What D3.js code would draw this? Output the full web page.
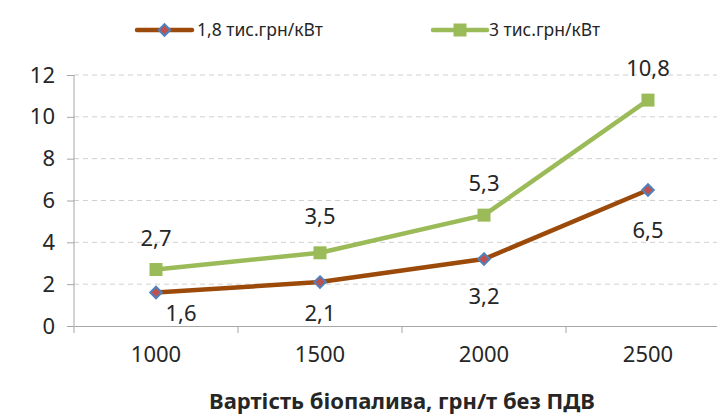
<!DOCTYPE html>
<html>
<head>
<meta charset="utf-8">
<script src="https://d3js.org/d3.v7.min.js"></script>
<style>
body { margin: 0; background: white; }
text { font-family: "Noto Sans", sans-serif; fill: #262626; }
.grid line { stroke: #d0d0d0; stroke-dasharray: 5,4; }
</style>
</head>
<body>
<svg id="chart" width="717" height="415"></svg>
<script>
// data
var categories = ["1000", "1500", "2000", "2500"];
var seriesNames = ["1,8 тис.грн/кВт", "3 тис.грн/кВт"];
var low = [1.6, 2.1, 3.2, 6.5];
var high = [2.7, 3.5, 5.3, 10.8];
var yTicks = [0, 2, 4, 6, 8, 10, 12];
var xTitle = "Вартість біопалива, грн/т без ПДВ";

// label placement (dx, dy from point) - Excel put them around the marker
var lowLabelOff = [[25, 21], [0, 31], [0, 37], [0, 40]];
var highLabelOff = [[0, -31], [0, -36], [0, -32], [0, -32]];

var svg = d3.select("#chart");
var mLeft = 74, mTop = 75, mBottom = 326;

var x = d3.scaleBand().domain(categories).range([mLeft, mLeft + 656]);
var y = d3.scaleLinear().domain([0, 12]).range([mBottom, mTop]);

// grid
svg.append("g").attr("class", "grid")
  .selectAll("line").data(yTicks.filter(function(d) { return d > 0; }))
  .enter().append("line")
  .attr("x1", mLeft).attr("x2", 717)
  .attr("y1", function(d) { return y(d); })
  .attr("y2", function(d) { return y(d); });

// y axis
var ya = svg.append("g").attr("transform", "translate(" + mLeft + ",0)")
  .call(d3.axisLeft(y).tickValues(yTicks).tickSize(7).tickPadding(12).tickFormat(d3.format("d")));
ya.select(".domain").attr("stroke", "#a6a6a6").attr("d", "M0," + y(12) + "V" + (mBottom + 7));
ya.selectAll(".tick line").attr("stroke", "#a6a6a6");
ya.selectAll("text").style("font-size", "22px").attr("fill", "#262626");

// x axis
var xa = svg.append("g").attr("transform", "translate(0," + mBottom + ")")
  .call(d3.axisBottom(x).tickSize(0).tickPadding(20));
xa.select(".domain").attr("stroke", "#a6a6a6");
xa.selectAll("text").style("font-size", "22px").attr("fill", "#262626");
xa.selectAll(".sep").data(categories.slice(1)).enter().append("line")
  .attr("class", "sep")
  .attr("x1", function(d) { return x(d); }).attr("x2", function(d) { return x(d); })
  .attr("y1", 0).attr("y2", 7).attr("stroke", "#a6a6a6");

svg.append("text")
  .attr("x", 402).attr("y", 409)
  .attr("text-anchor", "middle")
  .style("font-size", "22px").style("font-weight", "bold")
  .text(xTitle);

var cx = function(d, i) { return x(categories[i]) + x.bandwidth() / 2; };
var line = d3.line()
  .x(function(d, i) { return x(categories[i]) + x.bandwidth() / 2; })
  .y(function(d) { return y(d); });

var brown = "#9c4a09", green = "#9bbb59";

svg.append("path").datum(high)
  .attr("fill", "none").attr("stroke", green).attr("stroke-width", 4.5)
  .attr("stroke-linejoin", "round").attr("d", line);
svg.append("path").datum(low)
  .attr("fill", "none").attr("stroke", brown).attr("stroke-width", 4.5)
  .attr("stroke-linejoin", "round").attr("d", line);

svg.selectAll(".sq").data(high).enter().append("rect")
  .attr("x", function(d, i) { return cx(d, i) - 6.5; })
  .attr("y", function(d) { return y(d) - 6.5; })
  .attr("width", 13).attr("height", 13)
  .attr("fill", green);

var diamond = d3.symbol().type(d3.symbolDiamond2).size(85);
svg.selectAll(".dm").data(low).enter().append("path")
  .attr("transform", function(d, i) { return "translate(" + cx(d, i) + "," + y(d) + ")"; })
  .attr("d", diamond)
  .attr("fill", "#c0504d").attr("stroke", "#4f81bd").attr("stroke-width", 2);

var fmt = function(v) { return String(v).replace(".", ","); };

svg.selectAll(".lbl-l").data(low).enter().append("text")
  .attr("x", function(d, i) { return cx(d, i) + lowLabelOff[i][0]; })
  .attr("y", function(d, i) { return y(d) + lowLabelOff[i][1]; })
  .attr("text-anchor", "middle").attr("dy", "0.35em")
  .style("font-size", "22px")
  .text(fmt);
svg.selectAll(".lbl-h").data(high).enter().append("text")
  .attr("x", function(d, i) { return cx(d, i) + highLabelOff[i][0]; })
  .attr("y", function(d, i) { return y(d) + highLabelOff[i][1]; })
  .attr("text-anchor", "middle").attr("dy", "0.35em")
  .style("font-size", "22px")
  .text(fmt);

// legend
var lg = svg.append("g");
lg.append("line").attr("x1", 137).attr("x2", 192).attr("y1", 30).attr("y2", 30)
  .attr("stroke", brown).attr("stroke-width", 4.5).attr("stroke-linecap", "round");
lg.append("path").attr("transform", "translate(164.5,30)").attr("d", diamond)
  .attr("fill", "#c0504d").attr("stroke", "#4f81bd").attr("stroke-width", 2);
lg.append("text").attr("x", 197).attr("y", 30).attr("dy", "0.35em")
  .style("font-size", "17.5px").text(seriesNames[0]);
lg.append("line").attr("x1", 433).attr("x2", 487).attr("y1", 30).attr("y2", 30)
  .attr("stroke", green).attr("stroke-width", 4.5).attr("stroke-linecap", "round");
lg.append("rect").attr("x", 453.5).attr("y", 23.5).attr("width", 13).attr("height", 13)
  .attr("fill", green);
lg.append("text").attr("x", 489).attr("y", 30).attr("dy", "0.35em")
  .style("font-size", "17.5px").text(seriesNames[1]);
</script>
</body>
</html>
